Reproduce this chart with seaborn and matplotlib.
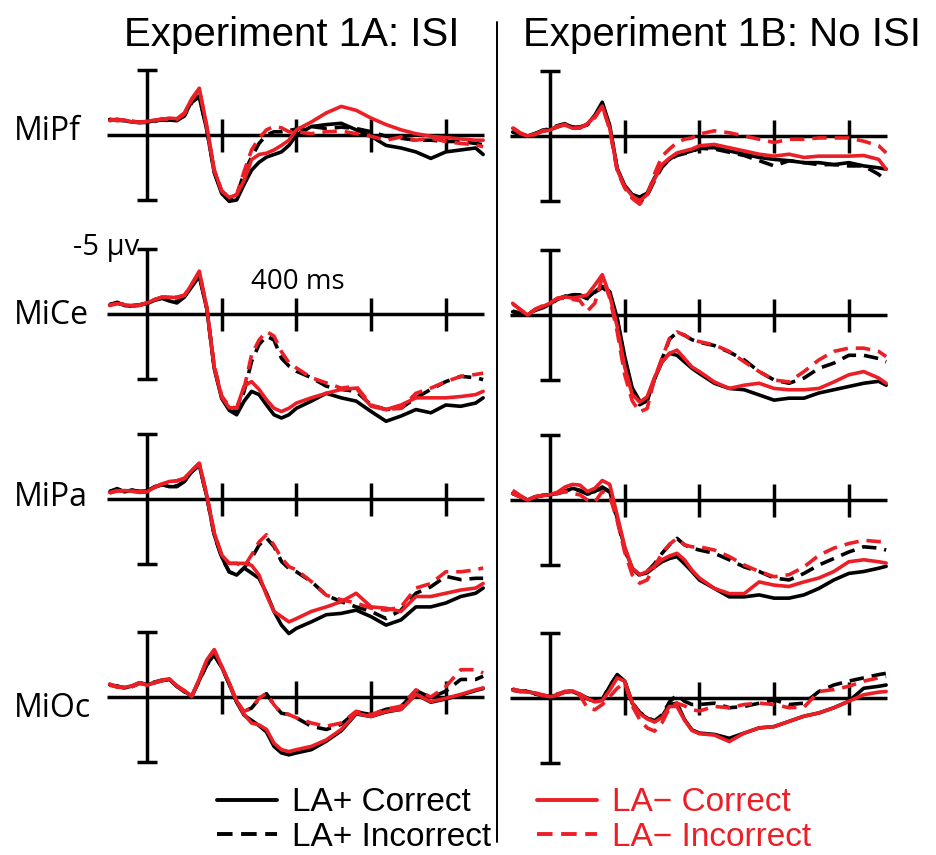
import pandas as pd
import matplotlib
matplotlib.use("Agg")
import matplotlib.pyplot as plt
import seaborn as sns
from matplotlib.lines import Line2D

# time axis (ms) shared by all waveforms
times = [-100, -80, -60, -40, -20, 0, 20, 40, 60, 80, 100, 120, 140, 160, 180,
         200, 220, 240, 260, 280, 300, 320, 340, 360, 380, 400,
         440, 480, 520, 560, 600, 640, 680, 720, 760, 800, 840, 880, 900]

# amplitudes in microvolts (negative plotted up)
# MiPf - Experiment 1A (ISI)
pf_isi_pos_cor = [-1.2, -1.15, -1.1, -1.0, -0.95, -1.0, -1.1, -1.15, -1.15, -1.1, -1.5, -2.6, -2.9, -0.4, 2.9, 4.5, 5.1, 5.0, 3.8, 2.7,
                  2.1, 1.7, 1.5, 1.3, 0.8, 0.0, -0.65, -0.8, -0.9, -0.4, 0.1, 0.8, 1.0, 1.3, 1.8, 1.3, 1.15, 1.0, 1.5]
pf_isi_pos_inc = [-1.15, -1.2, -1.1, -1.05, -1.0, -0.95, -1.05, -1.2, -1.1, -1.15, -1.45, -2.5, -3.0, -0.5, 2.8, 4.4, 5.0, 4.7, 2.9, 1.7,
                  0.65, 0.0, -0.25, -0.25, -0.35, -0.45, -0.65, -0.5, -0.6, -0.5, -0.25, 0.1, 0.25, 0.4, 0.4, 0.5, 0.5, 0.65, 0.75]
pf_isi_neg_cor = [-1.1, -1.2, -1.15, -1.0, -1.0, -1.05, -1.15, -1.2, -1.3, -1.25, -1.7, -2.8, -3.6, -0.7, 2.7, 4.3, 4.8, 4.6, 3.5, 1.9,
                  1.5, 1.4, 1.15, 0.8, 0.4, -0.4, -1.0, -1.7, -2.2, -1.9, -1.3, -0.8, -0.4, -0.1, 0.1, 0.2, 0.3, 0.4, 0.4]
pf_isi_neg_inc = [-1.2, -1.1, -1.15, -1.05, -0.95, -1.0, -1.1, -1.25, -1.2, -1.2, -1.6, -2.7, -3.5, -0.6, 2.7, 4.3, 4.8, 4.6, 2.8, 1.15,
                  0.25, -0.4, -0.65, -0.55, -0.25, -0.25, -0.1, -0.25, -0.3, -0.1, 0.1, 0.4, 0.15, 0.4, 0.25, 0.5, 0.65, 0.75, 0.9]

# MiPf - Experiment 1B (No ISI)
pf_noisi_pos_cor = [-0.3, -0.1, 0.0, -0.2, -0.4, -0.5, -0.7, -0.9, -0.7, -0.65, -0.9, -1.6, -2.6, -0.8, 2.5, 3.8, 4.5, 4.7, 4.4, 3.2,
                    2.3, 1.8, 1.4, 1.3, 1.15, 0.9, 0.9, 1.15, 1.4, 1.65, 1.8, 1.9, 2.05, 2.05, 2.2, 2.05, 2.3, 2.45, 2.55]
pf_noisi_pos_inc = [-0.4, -0.15, -0.05, -0.15, -0.45, -0.55, -0.8, -0.95, -0.6, -0.7, -0.85, -1.5, -2.4, -0.7, 2.6, 3.9, 4.7, 5.1, 4.6, 3.4,
                    2.4, 1.8, 1.5, 1.35, 1.2, 0.95, 1.0, 1.25, 1.5, 1.9, 2.3, 1.9, 2.05, 2.2, 2.2, 2.3, 2.3, 2.95, 3.45]
pf_noisi_neg_cor = [-0.6, -0.2, 0.0, -0.15, -0.35, -0.45, -0.75, -0.85, -0.6, -0.6, -0.95, -1.5, -2.3, -0.6, 2.6, 3.9, 4.6, 5.0, 4.5, 3.3,
                    2.2, 1.7, 1.3, 1.15, 1.0, 0.75, 0.65, 0.9, 1.15, 1.4, 1.55, 1.4, 1.65, 1.55, 1.55, 1.55, 1.5, 1.8, 2.55]
pf_noisi_neg_inc = [-0.65, -0.25, 0.0, -0.1, -0.4, -0.5, -0.7, -0.9, -0.55, -0.65, -0.9, -1.4, -2.3, -0.5, 2.7, 4.0, 4.8, 5.25, 4.6, 2.9,
                    1.55, 1.0, 0.5, 0.25, 0.15, -0.15, -0.4, -0.25, 0.0, 0.25, 0.5, 0.25, 0.25, 0.15, 0.15, 0.15, 0.4, 0.75, 1.3]

# MiCe - Experiment 1A (ISI)
ce_isi_pos_cor = [-0.7, -0.9, -0.65, -0.6, -0.7, -0.8, -1.05, -1.2, -1.0, -0.85, -1.3, -2.1, -2.9, -0.4, 4.2, 6.5, 7.4, 7.75, 6.7, 5.95,
                  6.2, 7.0, 7.75, 8.0, 7.75, 7.25, 6.7, 6.1, 6.45, 6.7, 7.5, 8.25, 7.85, 7.35, 7.6, 7.0, 7.1, 6.85, 6.45]
ce_isi_pos_inc = [-0.75, -0.85, -0.7, -0.65, -0.7, -0.85, -1.1, -1.25, -1.05, -0.95, -1.35, -2.2, -3.0, -0.45, 4.1, 6.4, 7.3, 7.5, 5.95, 3.65,
                  2.35, 1.7, 2.0, 3.4, 4.0, 4.4, 4.9, 5.55, 5.8, 5.95, 7.0, 7.35, 7.25, 6.45, 5.8, 5.2, 4.8, 4.9, 5.05]
ce_isi_neg_cor = [-0.65, -0.8, -0.7, -0.65, -0.7, -0.85, -1.1, -1.3, -1.3, -1.25, -1.4, -2.3, -3.3, -0.5, 4.1, 6.4, 7.2, 7.25, 5.55, 5.2,
                  5.8, 6.6, 7.25, 7.5, 7.25, 6.85, 6.45, 6.1, 5.8, 5.7, 7.1, 7.35, 7.0, 6.45, 6.45, 6.45, 6.35, 6.2, 5.95]
ce_isi_neg_inc = [-0.7, -0.8, -0.75, -0.6, -0.65, -0.85, -1.1, -1.3, -1.3, -1.3, -1.45, -2.3, -3.2, -0.5, 4.0, 6.3, 7.1, 7.25, 5.7, 3.15,
                  2.0, 1.35, 1.7, 2.9, 3.75, 4.15, 4.9, 5.3, 5.7, 5.55, 7.0, 7.35, 7.25, 6.1, 5.7, 5.2, 4.8, 4.65, 4.55]

# MiCe - Experiment 1B (No ISI)
ce_noisi_pos_cor = [-0.25, -0.1, 0.0, -0.4, -0.6, -0.85, -1.25, -1.4, -1.55, -1.55, -1.3, -1.8, -2.2, -1.8, 0.25, 3.2, 5.6, 6.6, 6.6, 4.9,
                    3.6, 2.95, 3.1, 3.6, 4.1, 4.5, 5.25, 5.65, 5.75, 6.15, 6.55, 6.4, 6.4, 6.0, 5.75, 5.5, 5.25, 5.1, 5.4]
ce_noisi_pos_inc = [-0.3, -0.15, 0.0, -0.35, -0.55, -0.8, -1.2, -1.45, -1.6, -1.5, -1.25, -1.75, -2.1, -1.7, 0.4, 3.4, 5.8, 6.9, 6.6, 4.9,
                    3.4, 1.85, 1.35, 1.55, 1.9, 2.1, 2.35, 2.85, 3.45, 4.35, 5.0, 5.25, 4.85, 4.1, 3.7, 3.1, 3.1, 3.35, 3.6]
ce_noisi_neg_cor = [-0.9, -0.4, 0.0, -0.4, -0.65, -0.9, -1.3, -1.4, -1.3, -1.4, -1.55, -2.3, -3.1, -1.5, 0.9, 4.0, 6.1, 6.7, 6.3, 4.8,
                    3.6, 2.95, 2.7, 3.35, 4.0, 4.35, 5.15, 5.65, 5.4, 5.25, 5.65, 5.75, 5.75, 5.65, 5.15, 4.6, 4.35, 4.85, 5.25]
ce_noisi_neg_inc = [-0.85, -0.45, 0.0, -0.45, -0.7, -0.95, -1.25, -1.3, -1.2, -1.1, -0.3, -0.9, -2.9, -1.3, 1.3, 4.6, 6.6, 7.45, 7.2, 4.85,
                    3.3, 1.8, 1.3, 1.55, 1.9, 2.05, 2.3, 2.8, 3.6, 4.35, 5.0, 5.15, 4.35, 3.45, 2.8, 2.55, 2.55, 2.8, 3.2]

# MiPa - Experiment 1A (ISI)
pa_isi_pos_cor = [-0.55, -0.8, -0.55, -0.7, -0.55, -0.6, -0.95, -1.1, -0.95, -0.95, -1.35, -2.1, -2.6, -0.2, 2.75, 4.45, 5.6, 5.85, 5.3, 5.7,
                  6.1, 7.25, 8.65, 9.7, 10.35, 9.95, 9.45, 8.9, 8.8, 8.55, 9.05, 9.7, 9.3, 8.3, 8.3, 8.0, 7.5, 7.25, 6.85]
pa_isi_pos_inc = [-0.6, -0.75, -0.55, -0.65, -0.6, -0.6, -0.9, -1.1, -1.0, -1.0, -1.35, -2.1, -2.6, -0.2, 2.8, 4.5, 5.6, 5.85, 5.3, 4.55,
                  3.55, 3.0, 3.65, 4.8, 5.35, 5.6, 6.35, 7.4, 7.9, 8.3, 8.65, 9.2, 8.55, 7.25, 6.75, 5.95, 6.2, 6.1, 6.1]
pa_isi_neg_cor = [-0.5, -0.6, -0.65, -0.6, -0.5, -0.55, -0.9, -1.15, -1.35, -1.4, -1.6, -2.2, -2.75, -0.3, 2.6, 4.3, 4.95, 4.95, 4.95, 5.1,
                  5.85, 7.4, 8.65, 9.05, 9.45, 9.2, 8.65, 8.3, 7.9, 7.25, 8.3, 8.4, 8.65, 7.5, 7.5, 7.25, 7.0, 6.85, 6.5]
pa_isi_neg_inc = [-0.45, -0.65, -0.6, -0.6, -0.55, -0.55, -0.9, -1.15, -1.3, -1.4, -1.55, -2.2, -2.75, -0.3, 2.6, 4.3, 4.95, 4.95, 5.2, 4.3,
                  3.3, 2.75, 3.55, 4.55, 5.2, 5.45, 6.35, 7.4, 7.75, 8.0, 8.4, 8.55, 8.3, 6.85, 6.5, 5.6, 5.6, 5.45, 5.3]

# MiPa - Experiment 1B (No ISI)
pa_noisi_pos_cor = [-0.5, -0.25, 0.0, -0.25, -0.35, -0.4, -0.5, -0.65, -0.9, -0.75, -0.5, -0.65, -1.0, -0.65, 1.4, 3.7, 5.25, 5.75, 5.6, 5.15,
                    4.75, 4.5, 4.35, 4.9, 5.5, 6.15, 6.8, 7.45, 7.45, 7.3, 7.55, 7.55, 7.3, 6.8, 6.15, 5.65, 5.5, 5.25, 5.1]
pa_noisi_pos_inc = [-0.5, -0.3, 0.0, -0.2, -0.35, -0.45, -0.55, -0.7, -0.85, -0.7, -0.45, -0.6, -0.95, -0.6, 1.5, 3.8, 5.3, 5.8, 5.5, 4.9,
                    4.1, 3.45, 2.95, 3.45, 3.7, 3.85, 4.1, 4.6, 5.15, 5.5, 6.0, 6.15, 5.65, 5.0, 4.5, 4.0, 3.6, 3.7, 3.85]
pa_noisi_neg_cor = [-0.5, -0.25, 0.0, -0.25, -0.35, -0.4, -0.6, -1.0, -1.2, -1.15, -0.65, -0.9, -1.5, -1.2, 1.2, 3.6, 5.25, 5.75, 5.5, 5.05,
                    4.6, 4.3, 4.1, 4.6, 5.4, 6.0, 6.8, 7.2, 7.2, 6.3, 6.55, 6.65, 6.3, 6.0, 5.5, 4.75, 4.6, 4.75, 4.85]
pa_noisi_neg_inc = [-0.75, -0.35, 0.0, -0.25, -0.35, -0.4, -0.5, -0.65, -0.5, -0.4, 0.0, 0.15, -0.65, -0.3, 1.6, 4.0, 5.75, 6.4, 6.15, 5.1,
                    4.1, 3.4, 2.95, 3.45, 3.6, 3.6, 3.85, 4.35, 5.0, 5.5, 5.9, 5.75, 5.15, 4.25, 3.7, 3.35, 3.1, 3.2, 3.2]

# MiOc - Experiment 1A (ISI)
oc_isi_pos_cor = [-0.95, -0.8, -0.7, -0.85, -1.1, -0.95, -1.1, -1.25, -1.35, -0.8, -0.45, -0.05, -1.3, -2.5, -3.25, -2.3, -1.0, 0.4, 1.4, 1.8,
                  2.2, 2.7, 3.8, 4.3, 4.45, 4.3, 4.05, 3.4, 2.6, 1.3, 1.5, 1.15, 0.95, -0.2, 0.4, 0.15, -0.15, -0.5, -0.65]
oc_isi_pos_inc = [-0.9, -0.85, -0.7, -0.8, -1.05, -1.0, -1.15, -1.3, -1.3, -0.85, -0.4, -0.1, -1.25, -2.45, -3.2, -2.3, -1.0, 0.35, 1.1, 0.85,
                  0.15, -0.25, 0.6, 1.25, 1.35, 1.6, 2.25, 2.5, 2.1, 1.15, 1.35, 0.95, 0.75, -0.5, 0.05, -0.45, -1.35, -1.35, -1.6]
oc_isi_neg_cor = [-1.0, -0.8, -0.75, -0.85, -1.1, -0.9, -1.1, -1.3, -1.4, -0.85, -0.5, -0.05, -1.4, -2.85, -3.65, -2.35, -1.1, 0.3, 1.35, 2.0,
                  2.15, 2.5, 3.55, 4.05, 4.2, 4.05, 3.8, 3.3, 2.5, 1.25, 1.5, 1.1, 0.95, -0.2, 0.35, 0.1, -0.2, -0.55, -0.7]
oc_isi_neg_inc = [-0.95, -0.75, -0.75, -0.8, -1.05, -0.95, -1.1, -1.25, -1.4, -0.85, -0.45, -0.05, -1.4, -2.8, -3.6, -2.35, -1.1, 0.35, 1.1, 0.85,
                  0.1, -0.3, 0.6, 1.25, 1.35, 1.6, 2.0, 2.25, 2.0, 1.1, 1.35, 0.95, 0.7, -0.55, 0.0, -0.8, -2.1, -2.1, -1.85]

# MiOc - Experiment 1B (No ISI)
oc_noisi_pos_cor = [-0.65, -0.55, -0.5, -0.35, -0.2, -0.1, -0.25, -0.5, -0.5, -0.25, 0.0, 0.25, 0.15, -0.9, -1.8, -1.3, 0.4, 1.15, 1.55, 1.8,
                    1.4, 0.5, 0.4, 1.65, 2.45, 2.7, 2.8, 3.1, 2.7, 2.3, 2.2, 1.8, 1.4, 1.15, 0.75, 0.25, -0.75, -0.9, -1.0]
oc_noisi_pos_inc = [-0.6, -0.5, -0.55, -0.3, -0.2, -0.15, -0.3, -0.45, -0.55, -0.3, 0.05, 0.3, 0.1, -0.95, -1.75, -1.25, 0.35, 1.1, 1.5, 1.75,
                    1.3, 0.3, -0.25, 0.25, 0.5, 0.5, 0.4, 0.75, 0.65, 0.4, 0.15, 0.5, 0.4, -0.5, -1.0, -1.3, -1.55, -1.8, -1.9]
oc_noisi_neg_cor = [-0.6, -0.5, -0.45, -0.4, -0.25, -0.1, -0.2, -0.45, -0.55, -0.3, 0.05, 0.3, 0.2, -0.6, -1.55, -1.3, 0.35, 1.2, 1.6, 1.85,
                    1.5, 0.65, 0.65, 1.7, 2.5, 2.75, 2.85, 3.35, 2.7, 2.3, 2.2, 1.8, 1.4, 1.15, 0.75, 0.25, -0.25, -0.45, -0.5]
oc_noisi_neg_inc = [-0.7, -0.55, -0.5, -0.35, -0.2, -0.1, -0.3, -0.5, -0.45, -0.2, 0.75, 0.9, 0.5, -0.1, -0.75, -1.15, 0.6, 1.65, 2.3, 2.55,
                    1.9, 0.75, 0.4, 0.6, 0.9, 1.0, 0.65, 0.75, 0.5, 0.4, 0.5, 0.75, 0.7, -0.5, -0.65, -0.9, -1.3, -1.55, -1.65]

conds = ["LA+ Correct", "LA+ Incorrect", "LA\u2212 Correct", "LA\u2212 Incorrect"]
red = "#ec1f26"
palette = dict(zip(conds, ["black", "black", red, red]))
dashes = dict(zip(conds, ["", (4, 2.2), "", (4, 2.2)]))

sns.set_theme(style="white")
plt.rcParams["font.family"] = ["Liberation Sans", "DejaVu Sans"]
plt.rcParams["text.color"] = "black"

W, H = 937, 855
MS, UV = 0.3735, 13.0   # pixels per ms, pixels per microvolt

fig = plt.figure(figsize=(W / 100, H / 100), dpi=100)


def make_ax(x0, y0):
    left = x0 - 120 * MS
    top = y0 - 7 * UV
    ax = fig.add_axes([left / W, 1 - (top + 18 * UV) / H, 1040 * MS / W, 18 * UV / H])
    ax.patch.set_alpha(0)
    return ax


panels = [
    (147, 135, [pf_isi_pos_cor, pf_isi_pos_inc, pf_isi_neg_cor, pf_isi_neg_inc]),
    (550, 136, [pf_noisi_pos_cor, pf_noisi_pos_inc, pf_noisi_neg_cor, pf_noisi_neg_inc]),
    (147, 314, [ce_isi_pos_cor, ce_isi_pos_inc, ce_isi_neg_cor, ce_isi_neg_inc]),
    (550, 315, [ce_noisi_pos_cor, ce_noisi_pos_inc, ce_noisi_neg_cor, ce_noisi_neg_inc]),
    (147, 499, [pa_isi_pos_cor, pa_isi_pos_inc, pa_isi_neg_cor, pa_isi_neg_inc]),
    (550, 500, [pa_noisi_pos_cor, pa_noisi_pos_inc, pa_noisi_neg_cor, pa_noisi_neg_inc]),
    (147, 697, [oc_isi_pos_cor, oc_isi_pos_inc, oc_isi_neg_cor, oc_isi_neg_inc]),
    (550, 698, [oc_noisi_pos_cor, oc_noisi_pos_inc, oc_noisi_neg_cor, oc_noisi_neg_inc]),
]

for x0, y0, series in panels:
    ax = make_ax(x0, y0)
    kw = dict(color="black", lw=2.5, solid_capstyle="butt", zorder=1)
    ax.plot([-106, 902], [0, 0], **kw)
    ax.plot([0, 0], [-5, 5], **kw)
    for yy in (-5, 5):
        ax.plot([-27, 27], [yy, yy], **kw)
    for tt in (200, 400, 600, 800):
        ax.plot([tt, tt], [-1.2, 1.3], **kw)

    df = pd.concat([pd.DataFrame({"time": times, "uv": vals, "cond": c})
                    for c, vals in zip(conds, series)], ignore_index=True)
    sns.lineplot(data=df, x="time", y="uv", hue="cond", style="cond",
                 hue_order=conds, style_order=conds, palette=palette, dashes=dashes,
                 lw=2.6, estimator=None, sort=False, legend=False, ax=ax)
    ax.set_xlim(-120, 920)
    ax.set_ylim(11, -7)
    ax.axis("off")

# column titles and divider
fig.text(292 / W, 1 - 46 / H, "Experiment 1A: ISI", ha="center", va="baseline", fontsize=29)
fig.text(722 / W, 1 - 46 / H, "Experiment 1B: No ISI", ha="center", va="baseline", fontsize=29)
fig.add_artist(Line2D([497 / W, 497 / W], [1 - 22 / H, 1 - 842 / H],
                      transform=fig.transFigure, color="black", lw=1.4))

# electrode labels and scale annotations
for name, yy in [("MiPf", 132), ("MiCe", 316), ("MiPa", 497), ("MiOc", 708)]:
    fig.text(14 / W, 1 - yy / H, name, ha="left", va="center", fontsize=23, family="Open Sans")
fig.text(139 / W, 1 - 247 / H, "-5 \u00b5v", ha="right", va="center", fontsize=21, family="Open Sans")
fig.text(298 / W, 1 - 282 / H, "400 ms", ha="center", va="center", fontsize=20, family="Open Sans")

# legend
handles = []
for c in conds:
    ln = Line2D([], [], color=palette[c], lw=2.8)
    if dashes[c]:
        ln.set_dashes(dashes[c])
    handles.append(ln)
leg = fig.legend(handles, conds, ncol=2, loc="center", bbox_to_anchor=(514 / W, 1 - 820 / H),
                 frameon=False, fontsize=24, handlelength=1.8, handletextpad=0.45,
                 columnspacing=1.4, labelspacing=0.1, borderpad=0, borderaxespad=0)
for txt, c in zip(leg.get_texts(), conds):
    txt.set_color(palette[c])

fig.savefig("out.png", dpi=100)
